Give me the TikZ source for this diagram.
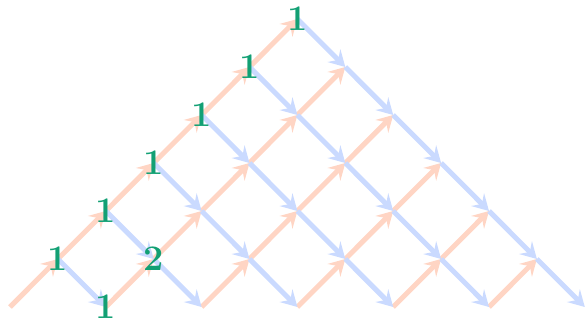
\documentclass[tikz,border=0pt]{standalone}
\usetikzlibrary{arrows.meta}
\definecolor{upc}{HTML}{FFD5C4}
\definecolor{dnc}{HTML}{CADAFF}
\definecolor{numc}{HTML}{12A074}
\begin{document}
\begin{tikzpicture}[x=1pt,y=-1pt,
  upar/.style={draw=upc,line width=5pt,-{Stealth[length=16pt,width=18pt,inset=6pt]}},
  dnar/.style={draw=dnc,line width=5pt,-{Stealth[length=16pt,width=18pt,inset=6pt]}},
  num/.style={text=numc,font=\fontsize{36}{36}\selectfont\bfseries,inner sep=0pt}]
\useasboundingbox (0,0) rectangle (588,323);
% lattice points
\foreach \c in {0,...,12}{\foreach \r in {0,...,6}{
  \pgfmathtruncatemacro\ok{(mod(\c+\r,2)==0)&&(\c>=\r)&&(\c+\r<=12)}
  \ifnum\ok=1 \coordinate (p\c-\r) at ({10+47.9*\c},{307-48*\r}); \fi
}}
% up-right arrows
\foreach \c in {0,...,11}{\foreach \r in {0,...,6}{
  \pgfmathtruncatemacro\ok{(mod(\c+\r,2)==0)&&(\c>=\r)&&(\c+\r<=10)}
  \ifnum\ok=1
    \pgfmathtruncatemacro\cn{\c+1}\pgfmathtruncatemacro\rn{\r+1}
    \draw[upar] (p\c-\r) -- (p\cn-\rn);
  \fi
}}
% down-right arrows
\foreach \c in {0,...,11}{\foreach \r in {1,...,6}{
  \pgfmathtruncatemacro\ok{(mod(\c+\r,2)==0)&&(\c>=\r)&&(\c+\r<=12)}
  \ifnum\ok=1
    \pgfmathtruncatemacro\cn{\c+1}\pgfmathtruncatemacro\rn{\r-1}
    \draw[dnar] (p\c-\r) -- (p\cn-\rn);
  \fi
}}
% numbers
\node[num] (n11) at (p1-1) {1};
\node[num] (n22) at (p2-2) {1};
\node[num] (n33) at (p3-3) {1};
\node[num] (n44) at (p4-4) {1};
\node[num] (n55) at (p5-5) {1};
\node[num] (n66) at (p6-6) {1};
\node[num] (n20) at (p2-0) {1};
\node[num] (n31) at (p3-1) {2};
\end{tikzpicture}
\end{document}
